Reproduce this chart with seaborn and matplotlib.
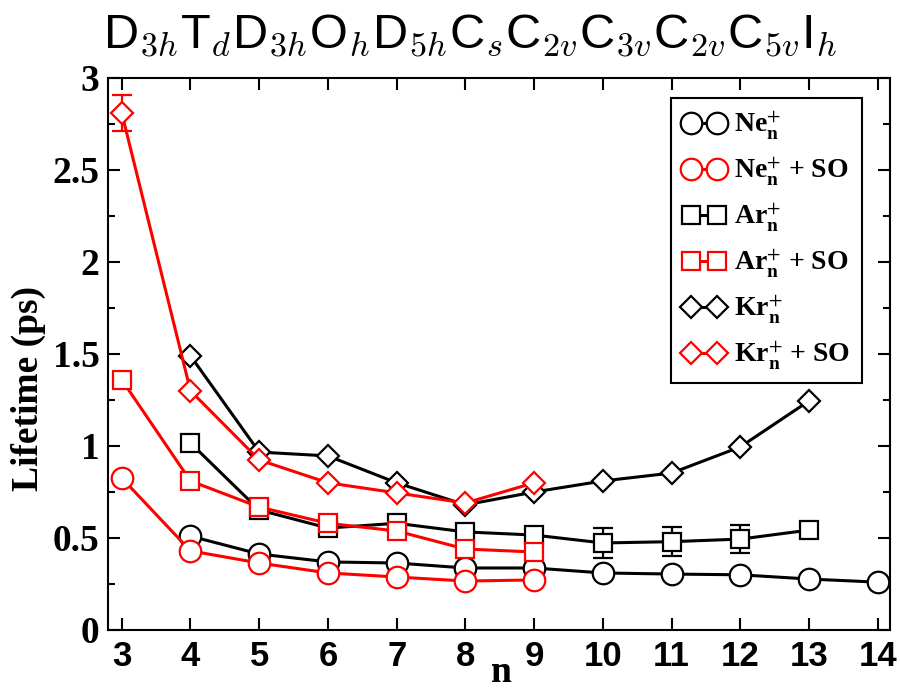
import matplotlib
matplotlib.use("Agg")
import matplotlib.pyplot as plt
from matplotlib.ticker import FixedLocator, FixedFormatter, MultipleLocator
import seaborn as sns

# cluster lifetimes (ps) versus cluster size n
ne_n = [4, 5, 6, 7, 8, 9, 10, 11, 12, 13, 14]
ne = [0.51, 0.413, 0.37, 0.364, 0.337, 0.337, 0.31, 0.304, 0.30, 0.277, 0.26]

ne_so_n = [3, 4, 5, 6, 7, 8, 9]
ne_so = [0.826, 0.43, 0.364, 0.31, 0.288, 0.266, 0.272]

ar_n = [4, 5, 6, 7, 8, 9, 10, 11, 12, 13]
ar = [1.016, 0.652, 0.554, 0.58, 0.533, 0.516, 0.473, 0.48, 0.494, 0.543]
ar_err_n = [10, 11, 12]
ar_err_val = [0.473, 0.48, 0.494]
ar_err = [0.08, 0.08, 0.076]

ar_so_n = [3, 4, 5, 6, 7, 8, 9]
ar_so = [1.36, 0.81, 0.668, 0.58, 0.538, 0.44, 0.424]

kr_n = [4, 5, 6, 7, 8, 9, 10, 11, 12, 13]
kr = [1.49, 0.967, 0.946, 0.80, 0.68, 0.75, 0.81, 0.853, 0.995, 1.245]

kr_so_n = [3, 4, 5, 6, 7, 8, 9]
kr_so = [2.81, 1.30, 0.924, 0.80, 0.745, 0.69, 0.80]
kr_so_err_n = [3]
kr_so_err_val = [2.81]
kr_so_err = [0.1]

labels = [r"Ne$_{\mathbf{n}}^{+}$", r"Ne$_{\mathbf{n}}^{+}$ + SO",
          r"Ar$_{\mathbf{n}}^{+}$", r"Ar$_{\mathbf{n}}^{+}$ + SO",
          r"Kr$_{\mathbf{n}}^{+}$", r"Kr$_{\mathbf{n}}^{+}$ + SO"]

x_ticks = list(range(3, 15))
y_ticks = [0, 0.5, 1, 1.5, 2, 2.5, 3]
y_tick_labels = ["0", "0.5", "1", "1.5", "2", "2.5", "3"]

title = (r"D$_{3h}$T$_{d}$D$_{3h}$O$_{h}$D$_{5h}$C$_{s}$C$_{2v}$C$_{3v}$"
         r"C$_{2v}$C$_{5v}$I$_{h}$")

sns.set_style("ticks")
plt.rcParams["font.family"] = ["Liberation Serif", "DejaVu Serif"]
plt.rcParams.update({"text.color": "black", "axes.labelcolor": "black",
                     "xtick.color": "black", "ytick.color": "black",
                     "axes.edgecolor": "black"})

fig = plt.figure(figsize=(9, 6.92), dpi=100)
ax = fig.add_axes([0.12, 0.0896, 0.869, 0.7977])

series = [
    (ne_n, ne, "black", "o", 15.5, labels[0]),
    (ne_so_n, ne_so, "red", "o", 15.5, labels[1]),
    (ar_n, ar, "black", "s", 12.5, labels[2]),
    (ar_so_n, ar_so, "red", "s", 12.5, labels[3]),
    (kr_n, kr, "black", "D", 11, labels[4]),
    (kr_so_n, kr_so, "red", "D", 11, labels[5]),
]

for xs, ys, col, mk, ms, lab in series:
    sns.lineplot(x=xs, y=ys, ax=ax, color=col, marker=mk, markersize=ms,
                 markerfacecolor="white", markeredgecolor=col,
                 markeredgewidth=1.6, linewidth=2.2, label=lab,
                 errorbar=None, sort=False)

ax.errorbar(ar_err_n, ar_err_val, yerr=ar_err, fmt="none", ecolor="black",
            elinewidth=1.6, capsize=7, capthick=1.6, zorder=1.5)
ax.errorbar(kr_so_err_n, kr_so_err_val, yerr=kr_so_err, fmt="none",
            ecolor="red", elinewidth=1.6, capsize=7, capthick=1.6, zorder=1.5)

ax.set_xlim(2.8, 14.18)
ax.set_ylim(0, 3)
ax.xaxis.set_major_locator(FixedLocator(x_ticks))
ax.yaxis.set_major_locator(FixedLocator(y_ticks))
ax.yaxis.set_major_formatter(FixedFormatter(y_tick_labels))
ax.yaxis.set_minor_locator(MultipleLocator(0.25))

for sp in ax.spines.values():
    sp.set_visible(True)
    sp.set_linewidth(1.5)
    sp.set_color("black")

ax.tick_params(which="both", direction="in", top=True, right=True,
               width=1.5, color="black", labelcolor="black")
ax.tick_params(which="major", length=8.6)
ax.tick_params(which="minor", length=5)
ax.tick_params(axis="x", which="major", pad=7)
ax.tick_params(axis="y", which="major", pad=6)

for t in ax.get_xticklabels():
    t.set_fontfamily(["Liberation Sans", "DejaVu Sans"])
    t.set_fontweight("bold")
    t.set_fontsize(25)
for t in ax.get_yticklabels():
    t.set_fontfamily(["Liberation Serif", "DejaVu Serif"])
    t.set_fontweight("bold")
    t.set_fontsize(27)

ax.set_xlabel("n", fontsize=27, fontweight="bold", va="baseline")
ax.xaxis.set_label_coords(0.503, -0.0942)
ax.set_ylabel("Lifetime (ps)", fontsize=27, fontweight="bold")
ax.yaxis.set_label_coords(-0.079, 0.438)

leg = ax.legend(loc="upper right", bbox_to_anchor=(0.964, 0.964),
                borderaxespad=0, numpoints=2, handlelength=1.55,
                handletextpad=0.3, labelspacing=0.5, borderpad=0.42,
                fancybox=False, framealpha=1, edgecolor="black",
                prop={"family": "Liberation Serif", "weight": "bold", "size": 20})
leg.get_frame().set_linewidth(1.5)
for t in leg.get_texts():
    t.set_math_fontfamily("stix")

fig.text(0.522, 0.95, title, ha="center", va="center", fontsize=35,
         family=["Liberation Sans", "DejaVu Sans"], math_fontfamily="cm")

fig.savefig("out.png", dpi=100, facecolor="white")
